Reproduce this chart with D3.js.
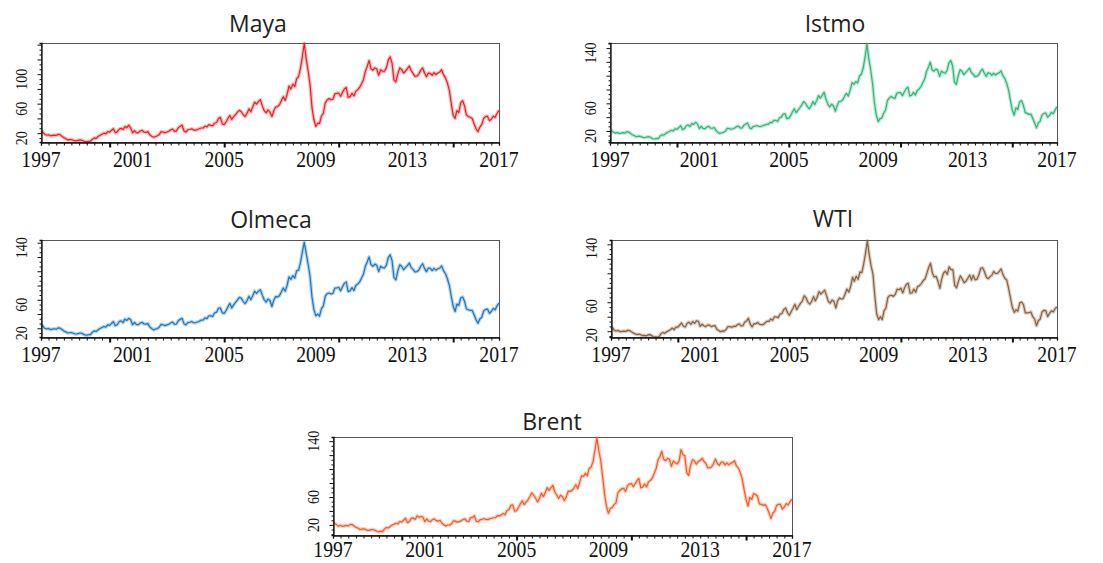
<!DOCTYPE html>
<html>
<head>
<meta charset="utf-8">
<script src="https://cdn.jsdelivr.net/npm/d3@7"></script>
<style>
  body { margin: 0; background: #fff; }
  svg { display: block; }
  .title { font-family: "Open Sans", "Noto Sans", sans-serif; font-size: 23px; fill: #231f20; }
  .xlab { font-family: "Liberation Serif", serif; font-size: 24px; fill: #111; }
  .ylab { font-family: "Liberation Serif", serif; font-size: 16px; fill: #111; }
</style>
</head>
<body>
<svg id="chart" width="1103" height="563"></svg>
<script>
// monthly prices, Jan 1997 .. Jan 2017 (one row per year)
var maya = [
  23.5, 21.0, 18.5, 17.2, 17.8, 16.4, 17.0, 17.4, 16.8, 18.5, 18.0, 16.0,
  13.8, 12.6, 10.8, 11.2, 11.4, 10.4, 9.6, 9.8, 10.6, 10.8, 9.6, 8.4,
  8.2, 8.8, 9.0, 11.8, 13.6, 13.0, 15.4, 17.2, 18.6, 20.0, 19.2, 22.0,
  21.5, 24.0, 26.0, 20.5, 22.0, 25.5, 26.6, 24.8, 29.0, 27.5, 31.0, 27.0,
  20.5, 23.5, 20.8, 20.5, 22.8, 24.0, 21.5, 21.0, 22.0, 17.8, 15.8, 14.5,
  15.5, 16.5, 18.0, 22.0, 21.6, 20.8, 21.5, 22.5, 24.5, 25.5, 22.5, 23.0,
  27.5, 29.5, 31.0, 23.0, 21.5, 24.6, 25.0, 26.0, 24.2, 24.0, 25.0, 26.0,
  27.0, 27.0, 29.5, 28.5, 31.5, 30.5, 30.0, 33.5, 34.5, 39.5, 41.5, 32.5,
  31.5, 35.5, 40.0, 44.0, 38.5, 42.5, 45.0, 48.5, 51.0, 49.0, 45.0, 42.5,
  47.0, 53.0, 49.0, 55.5, 62.0, 59.5, 63.0, 65.5, 57.0, 50.5, 47.5, 51.5,
  48.5, 42.5, 50.0, 55.5, 56.0, 58.5, 64.0, 69.5, 64.5, 72.5, 84.0, 80.0,
  86.5, 83.0, 94.0, 96.5, 108.0, 124.0, 142.0, 121.0, 104.0, 86.0, 55.0, 38.5,
  29.0, 33.5, 33.0, 43.0, 47.0, 61.0, 65.0, 67.0, 65.5, 66.0, 73.5, 74.0,
  74.5, 70.0, 75.0, 80.0, 82.0, 68.5, 69.5, 74.0, 70.5, 77.0, 79.0, 82.0,
  87.0, 92.5, 103.5, 110.5, 118.5, 107.0, 105.5, 108.5, 107.0, 98.5, 106.0, 104.0,
  104.0, 108.5, 119.0, 123.5, 115.0, 92.0, 89.5, 100.5, 108.5, 106.5, 101.5, 104.0,
  107.5, 111.0, 105.0, 101.0, 97.0, 97.5, 100.0, 105.5, 108.5, 102.0, 96.5, 101.5,
  101.0, 98.5, 102.0, 99.5, 101.5, 103.0, 106.0, 99.0, 95.0, 88.0, 78.0, 60.5,
  44.0, 40.0, 50.5, 48.0, 61.0, 64.0, 57.0, 44.5, 42.5, 41.5, 40.0, 32.5,
  26.0, 22.0, 28.0, 31.5, 40.0, 42.5, 43.0, 37.0, 39.0, 43.0, 41.5, 47.0,
  51.0
];

var istmo = [
  22.5, 20.0, 18.0, 17.0, 17.8, 16.5, 17.0, 17.6, 17.0, 19.0, 18.4, 16.6,
  14.5, 13.4, 11.8, 12.2, 12.5, 11.6, 10.4, 10.6, 11.5, 11.8, 10.5, 8.8,
  8.4, 9.3, 9.0, 12.8, 14.6, 14.0, 16.4, 18.2, 19.6, 21.0, 20.0, 23.2,
  22.5, 25.3, 27.6, 22.0, 23.5, 27.6, 28.6, 26.5, 31.0, 29.5, 32.6, 30.0,
  23.5, 26.8, 23.8, 23.2, 25.6, 26.8, 24.2, 24.0, 25.0, 20.8, 18.0, 16.3,
  17.5, 18.0, 19.8, 24.0, 23.6, 22.5, 23.3, 24.4, 26.3, 27.2, 24.2, 24.5,
  28.8, 30.5, 31.4, 24.5, 23.4, 26.6, 27.0, 28.0, 26.5, 26.4, 27.6, 28.4,
  29.6, 29.8, 32.5, 32.0, 35.5, 35.3, 34.0, 38.8, 40.0, 44.5, 45.0, 37.8,
  38.6, 42.5, 47.5, 52.0, 46.5, 50.2, 53.6, 57.8, 62.5, 60.0, 55.2, 52.0,
  56.5, 62.5, 58.0, 64.0, 71.0, 67.5, 71.5, 76.0, 66.0, 58.5, 55.0, 58.8,
  56.2, 48.5, 56.5, 62.5, 63.0, 64.8, 70.0, 74.5, 70.5, 79.0, 90.0, 87.5,
  91.5, 89.5, 99.5, 102.0, 111.0, 127.0, 145.5, 124.0, 108.5, 88.0, 60.5, 43.0,
  33.5, 38.0, 38.5, 46.0, 50.0, 64.0, 67.5, 70.0, 68.0, 67.0, 74.5, 75.5,
  75.5, 71.0, 76.0, 81.0, 83.5, 70.5, 71.8, 75.8, 72.0, 78.5, 80.8, 84.0,
  90.0, 95.5, 106.0, 112.0, 119.5, 108.5, 106.5, 109.5, 108.0, 99.0, 106.5, 104.5,
  103.5, 107.5, 118.0, 122.0, 114.0, 90.5, 87.5, 100.0, 108.5, 106.5, 101.5, 104.5,
  107.5, 111.0, 105.0, 102.0, 98.5, 99.0, 101.0, 106.5, 109.5, 103.5, 99.0, 104.0,
  103.5, 100.5, 103.5, 101.0, 103.0, 104.0, 107.0, 100.0, 96.0, 89.0, 79.5, 64.5,
  50.5, 43.0, 53.5, 51.0, 62.0, 64.0, 57.5, 46.5, 45.5, 44.0, 44.5, 38.5,
  31.5, 24.5, 31.5, 34.5, 43.0, 45.5, 46.0, 40.0, 42.5, 47.0, 45.0, 50.5,
  55.0
];

var olmeca = [
  25.5, 23.0, 20.0, 19.0, 19.8, 18.2, 18.8, 19.4, 18.8, 20.6, 20.2, 18.4,
  16.2, 15.0, 13.4, 13.8, 14.0, 13.0, 12.0, 12.2, 13.0, 13.4, 12.2, 10.6,
  10.4, 11.0, 11.0, 14.6, 16.4, 15.6, 18.0, 19.8, 21.2, 22.6, 21.6, 24.8,
  24.2, 27.0, 29.4, 23.6, 25.0, 29.5, 30.4, 28.0, 32.8, 31.0, 34.0, 32.0,
  25.0, 28.4, 25.6, 24.8, 27.2, 28.4, 26.0, 25.8, 26.5, 22.0, 19.8, 17.8,
  19.0, 19.6, 21.5, 25.6, 25.0, 23.8, 24.8, 25.6, 27.6, 28.8, 25.6, 26.0,
  30.8, 32.5, 34.0, 26.5, 24.8, 28.0, 28.4, 29.6, 27.8, 27.8, 28.8, 29.8,
  31.5, 31.6, 34.6, 33.6, 37.6, 37.4, 36.5, 41.5, 42.6, 48.0, 48.5, 41.6,
  41.0, 45.0, 50.0, 55.0, 48.5, 52.8, 56.5, 60.0, 63.5, 62.0, 57.5, 54.5,
  59.0, 65.0, 60.0, 65.5, 72.0, 69.0, 72.0, 74.0, 66.5, 60.0, 56.8, 61.0,
  59.0, 50.5, 59.0, 64.5, 64.0, 65.5, 71.0, 76.5, 72.0, 80.0, 92.0, 88.5,
  94.0, 90.5, 100.5, 101.5, 112.0, 127.0, 140.5, 125.0, 109.5, 93.0, 64.0, 46.5,
  37.5, 40.0, 37.0, 47.5, 51.0, 65.0, 68.5, 69.5, 68.0, 69.0, 76.5, 76.5,
  77.5, 72.5, 78.0, 83.0, 85.0, 71.5, 72.5, 77.0, 73.0, 80.0, 82.0, 85.0,
  90.5, 96.0, 106.5, 113.0, 120.0, 109.0, 107.0, 110.0, 108.5, 99.5, 107.0, 105.0,
  104.5, 108.5, 119.0, 123.0, 115.0, 91.0, 88.0, 100.5, 109.0, 107.0, 102.0, 105.0,
  108.0, 111.5, 105.5, 102.5, 99.0, 99.5, 101.5, 107.0, 110.5, 104.0, 99.5, 104.5,
  104.0, 101.0, 104.0, 101.5, 103.5, 104.5, 107.5, 100.5, 96.5, 89.5, 80.0, 65.0,
  51.0, 43.5, 54.0, 52.0, 62.5, 64.0, 58.0, 47.0, 46.0, 45.0, 45.0, 39.0,
  32.0, 27.0, 33.0, 35.5, 44.0, 46.5, 47.0, 41.0, 43.5, 48.0, 46.0, 51.5,
  55.5
];

var wti = [
  25.9, 24.5, 20.8, 20.4, 21.0, 19.2, 19.8, 20.2, 19.6, 21.2, 20.9, 19.2,
  17.6, 16.3, 15.4, 15.9, 15.1, 14.0, 14.2, 13.5, 14.9, 15.3, 13.8, 11.6,
  12.1, 12.0, 12.6, 16.8, 18.3, 17.0, 19.3, 20.5, 22.1, 24.4, 22.1, 25.8,
  25.6, 28.6, 31.4, 26.8, 25.8, 31.0, 32.5, 29.5, 33.4, 30.9, 34.2, 33.8,
  26.8, 29.6, 27.5, 26.3, 28.4, 28.4, 26.3, 27.3, 27.6, 22.8, 21.1, 19.3,
  20.4, 20.1, 22.3, 26.4, 26.3, 25.4, 26.7, 26.6, 28.9, 30.2, 27.3, 27.6,
  32.7, 34.2, 37.9, 29.8, 25.9, 30.4, 30.2, 32.1, 29.5, 29.1, 29.2, 31.6,
  33.7, 33.7, 36.9, 35.2, 39.9, 39.7, 38.8, 43.8, 44.3, 50.1, 52.0, 45.5,
  42.1, 47.2, 51.7, 57.3, 49.7, 54.5, 58.5, 61.6, 68.9, 66.2, 59.8, 57.4,
  61.1, 67.9, 61.9, 67.0, 74.6, 71.3, 73.9, 76.8, 69.2, 61.0, 58.7, 63.1,
  61.1, 52.0, 61.8, 66.0, 64.4, 65.1, 71.0, 78.2, 74.0, 81.7, 94.5, 88.8,
  95.9, 91.7, 101.8, 100.9, 112.5, 127.8, 145.0, 125.1, 110.0, 98.5, 67.8, 44.0,
  36.0, 40.0, 36.0, 48.4, 51.8, 66.3, 69.3, 69.5, 68.1, 70.8, 78.1, 77.3,
  79.4, 72.9, 79.7, 84.9, 86.2, 72.6, 72.9, 78.1, 73.9, 81.6, 82.9, 85.7,
  89.8, 92.2, 99.6, 107.9, 113.9, 100.3, 94.9, 95.7, 88.9, 79.2, 92.2, 100.4,
  102.9, 98.5, 108.8, 105.2, 105.2, 83.2, 80.0, 88.9, 96.5, 92.4, 87.1, 88.9,
  93.1, 97.6, 90.7, 97.1, 91.0, 91.9, 97.9, 107.0, 107.7, 102.1, 94.6, 92.6,
  95.4, 97.5, 102.6, 99.7, 99.8, 102.7, 106.1, 97.9, 92.9, 90.7, 78.8, 66.2,
  52.7, 46.0, 49.6, 47.6, 59.2, 60.3, 56.9, 45.2, 45.4, 45.7, 46.6, 40.0,
  36.8, 27.5, 34.4, 36.8, 46.7, 48.9, 48.4, 40.1, 44.7, 48.2, 46.7, 51.1,
  53.7
];

var brent = [
  24.5, 22.0, 20.0, 18.0, 19.5, 17.8, 18.5, 19.2, 18.6, 20.7, 20.4, 18.4,
  16.5, 15.5, 13.6, 13.9, 14.3, 13.6, 12.0, 12.2, 13.2, 13.4, 12.1, 10.9,
  10.1, 11.0, 10.4, 14.2, 16.2, 15.5, 17.9, 19.9, 21.1, 22.4, 21.4, 24.9,
  24.0, 27.0, 29.5, 23.1, 24.9, 29.4, 30.0, 27.8, 32.9, 31.0, 32.0, 31.5,
  24.5, 28.5, 25.5, 24.6, 27.3, 28.6, 26.1, 25.4, 26.6, 22.4, 20.1, 18.6,
  19.8, 20.0, 21.3, 25.9, 25.4, 24.0, 24.6, 25.7, 27.7, 28.6, 25.4, 24.9,
  30.5, 30.7, 33.2, 25.3, 24.5, 27.5, 28.0, 29.1, 27.8, 27.5, 29.0, 29.5,
  30.2, 30.5, 33.4, 32.9, 34.0, 36.5, 34.5, 40.6, 42.1, 48.0, 48.6, 39.6,
  40.5, 45.2, 50.0, 54.5, 49.0, 52.6, 56.0, 60.7, 66.0, 62.5, 57.9, 52.9,
  58.5, 65.4, 60.5, 65.9, 73.4, 69.4, 73.3, 76.8, 67.5, 62.8, 57.9, 62.6,
  60.4, 54.9, 59.5, 68.4, 68.1, 69.2, 72.8, 77.5, 72.1, 80.5, 90.3, 89.4,
  94.0, 90.5, 100.9, 103.0, 110.6, 126.9, 145.0, 126.4, 112.5, 89.2, 63.8, 46.7,
  36.5, 44.0, 44.5, 49.0, 51.3, 66.0, 69.4, 71.9, 72.3, 67.9, 76.3, 78.6,
  79.2, 74.6, 78.8, 83.5, 86.6, 73.0, 74.2, 78.5, 74.4, 81.8, 83.8, 87.3,
  94.0, 101.0, 113.0, 118.0, 125.5, 114.0, 112.0, 115.5, 114.0, 104.0, 111.5, 109.0,
  107.4, 111.5, 128.0, 121.0, 119.0, 95.0, 91.0, 105.5, 113.5, 112.0, 107.0, 110.8,
  112.5, 115.5, 111.0, 108.0, 102.0, 101.8, 103.0, 108.0, 114.5, 107.9, 105.5, 110.0,
  110.0, 106.0, 109.0, 106.0, 108.5, 109.5, 112.0, 104.5, 101.5, 95.0, 86.0, 70.5,
  56.5, 47.0, 59.5, 56.5, 65.0, 63.5, 61.5, 50.0, 49.5, 48.0, 49.0, 44.5,
  37.3, 29.0, 36.7, 39.5, 48.0, 49.5, 49.5, 42.5, 46.0, 50.5, 48.5, 53.5,
  56.8
];

var xLabelYears = [1997, 2001, 2005, 2009, 2013, 2017];
var majorYears = [2000, 2005, 2010, 2015];

// panel layout
var panels = [
  {title: "Maya",   data: maya,   color: "#ec1c24", x0: 41,  x1: 499,  y0: 43,  y1: 142, domain: [8, 142.3],   yLabels: [20, 60, 100], shift: 5, titleX: 258, titleY: 32},
  {title: "Istmo",  data: istmo,  color: "#2bb673", x0: 610, x1: 1057, y0: 43,  y1: 142, domain: [4.1, 147.2], yLabels: [20, 60, 140], shift: 5, titleX: 835, titleY: 32},
  {title: "Olmeca", data: olmeca, color: "#1b75bc", x0: 41,  x1: 499,  y0: 240, y1: 337, domain: [7.8, 143.8], yLabels: [20, 60, 140], shift: 5, titleX: 271, titleY: 228},
  {title: "WTI",    data: wti,    color: "#8b5e3c", x0: 611, x1: 1057, y0: 240, y1: 337, domain: [12, 146],    yLabels: [20, 60, 140], shift: 4, titleX: 833, titleY: 227},
  {title: "Brent",  data: brent,  color: "#f15a29", x0: 333, x1: 792,  y0: 437, y1: 535, domain: [5.5, 146],   yLabels: [20, 60, 140], shift: 0, titleX: 552, titleY: 430}
];

var svg = d3.select("#chart");
var months = d3.timeMonth.range(new Date(1997, 0, 1), new Date(2017, 1, 1));
var minorTicks = d3.timeMonth.every(4).range(new Date(1997, 0, 1), new Date(2017, 0, 2));

panels.forEach(function (p) {
    var x = d3.scaleTime()
        .domain([new Date(1997, 0, 1), new Date(2017, 0, 1)])
        .range([p.x0, p.x1]);
    var y = d3.scaleLinear().domain(p.domain).range([p.y1, p.y0]);
    var g = svg.append("g");

    g.append("text")
        .attr("class", "title")
        .attr("x", p.titleX)
        .attr("y", p.titleY)
        .attr("text-anchor", "middle")
        .text(p.title);

    // frame
    g.append("rect")
        .attr("x", p.x0 + 0.5).attr("y", p.y0 + 0.5)
        .attr("width", p.x1 - p.x0).attr("height", p.y1 - p.y0)
        .attr("fill", "none").attr("stroke", "#555").attr("stroke-width", 1);

    var line = d3.line()
        .x(function (d, i) { return x(months[i]); })
        .y(function (d) { return y(d); });

    // soft band behind the line, like the daily noise
    g.append("path")
        .datum(p.data)
        .attr("d", line)
        .attr("fill", "none")
        .attr("stroke", p.color)
        .attr("stroke-opacity", 0.3)
        .attr("stroke-width", 3.6)
        .attr("stroke-linejoin", "round");
    g.append("path")
        .datum(p.data)
        .attr("d", line)
        .attr("fill", "none")
        .attr("stroke", p.color)
        .attr("stroke-width", 1.2)
        .attr("stroke-linejoin", "round");

    // x axis: minor ticks every 4 months, longer ones every 5 years
    g.append("g")
        .attr("transform", "translate(0," + (p.y1 + 0.5) + ")")
        .call(d3.axisBottom(x).tickValues(minorTicks).tickSize(3).tickFormat(""))
        .call(function (a) {
            a.select(".domain").attr("stroke", "#111").attr("stroke-width", 1.3);
            a.selectAll(".tick line").attr("stroke", "#111");
        });
    g.append("g")
        .attr("transform", "translate(0," + (p.y1 + 0.5) + ")")
        .call(d3.axisBottom(x)
            .tickValues(majorYears.map(function (yr) { return new Date(yr, 0, 1); }))
            .tickSize(5).tickFormat(""))
        .call(function (a) {
            a.select(".domain").remove();
            a.selectAll(".tick line").attr("stroke", "#111").attr("stroke-width", 2);
        });

    var labelY = Math.min(p.y1 + 25, 557);
    g.selectAll(".xlab")
        .data(xLabelYears)
        .enter().append("text")
        .attr("class", "xlab")
        .attr("text-anchor", "middle")
        .attr("transform", function (d) {
            return "translate(" + x(new Date(d, 0, 1)) + "," + labelY + ") scale(0.82,1)";
        })
        .text(function (d) { return d; });

    // y axis: small ticks, longer at multiples of 20
    var step = 20 / 3;
    var yTicks = d3.range(0, 160, step).filter(function (v) {
        return v >= p.domain[0] && v <= p.domain[1];
    });
    g.append("g")
        .attr("transform", "translate(" + (p.x0 + 0.5) + ",0)")
        .call(d3.axisLeft(y).tickValues(yTicks).tickSize(2).tickFormat(""))
        .call(function (a) {
            a.select(".domain").attr("stroke", "#111").attr("stroke-width", 1.3);
            a.selectAll(".tick line")
                .attr("stroke", "#111")
                .attr("x2", function (v) { return Math.abs(v / 20 - Math.round(v / 20)) < 0.01 ? -4 : -2; });
        });

    g.selectAll(".ylab")
        .data(p.yLabels)
        .enter().append("text")
        .attr("class", "ylab")
        .attr("text-anchor", "middle")
        .attr("transform", function (d) {
            return "translate(" + (p.x0 - 14) + "," + (y(d) + p.shift) + ") rotate(-90) scale(0.88,1)";
        })
        .text(function (d) { return d; });
});
</script>
</body>
</html>
